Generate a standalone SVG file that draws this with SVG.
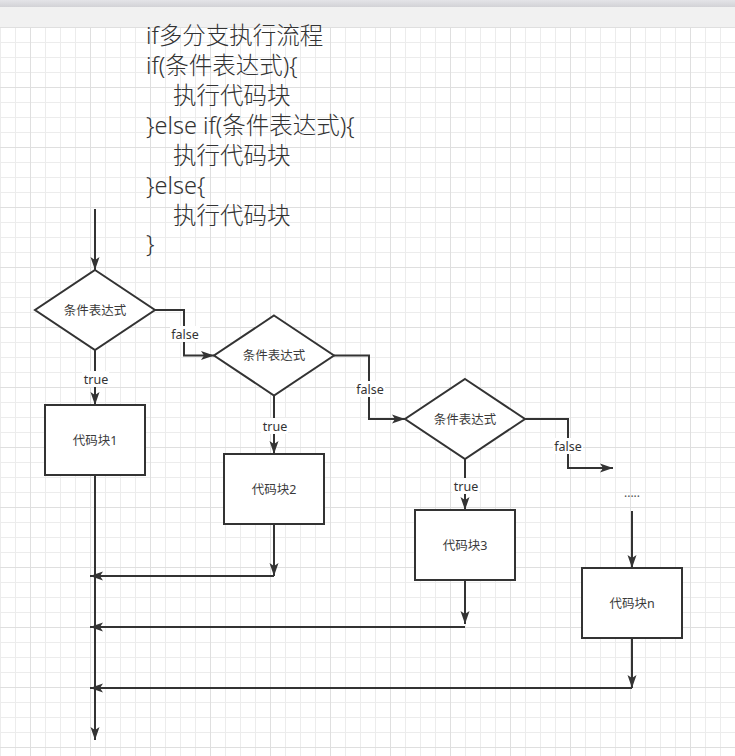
<svg xmlns="http://www.w3.org/2000/svg" width="735" height="756" viewBox="0 0 735 756">
  <defs>
    <pattern id="grid" patternUnits="userSpaceOnUse" x="30" y="27" width="60" height="60">
      <path d="M15.5,0V60M30.5,0V60M45.5,0V60M0,15.5H60M0,30.5H60M0,45.5H60" stroke="#ececec" stroke-width="1" fill="none"/>
      <path d="M0.5,0V60M0,0.5H60" stroke="#dfdfdf" stroke-width="1" fill="none"/>
    </pattern>
    <linearGradient id="bar" x1="0" y1="0" x2="0" y2="1">
      <stop offset="0" stop-color="#e4e4e8"/>
      <stop offset="1" stop-color="#d2d2d6"/>
    </linearGradient>
    <marker id="arr" viewBox="0 0 13 10" refX="13" refY="5" markerWidth="13" markerHeight="10" markerUnits="userSpaceOnUse" orient="auto">
      <path d="M0,0.5 L13,5 L0,9.5 L3,5 Z" fill="#333"/>
    </marker>
  </defs>
  <style>
    .shape { fill: #ffffff; stroke: #333333; stroke-width: 2; }
    .edge { fill: none; stroke: #333333; stroke-width: 2; marker-end: url(#arr); }
    .lbl { font-family: "Noto Sans", "Noto Sans CJK SC", sans-serif; font-size: 12.5px; fill: #3a3a3a; text-anchor: middle; dominant-baseline: central; }
    .elbl { font-family: "Noto Sans", "Noto Sans CJK SC", sans-serif; font-size: 12.5px; fill: #333333; text-anchor: middle; dominant-baseline: central; }
    .lblbg { fill: #ffffff; }
    .code { font-family: "Noto Sans", "Noto Sans CJK SC", sans-serif; font-size: 23.5px; font-weight: 300; fill: #333333; }
  </style>

  <rect x="0" y="0" width="735" height="756" fill="#ffffff"/>
  <rect x="0" y="27" width="735" height="729" fill="url(#grid)"/>
  <rect x="0" y="7" width="735" height="20" fill="#f1f1f1"/>
  <rect x="0" y="0" width="735" height="7" fill="url(#bar)"/>

  <g id="code-text" class="code">
    <text x="146" y="44">if多分支执行流程</text>
    <text x="146" y="74">if(条件表达式){</text>
    <text x="173" y="104">执行代码块</text>
    <text x="146" y="134">}else if(条件表达式){</text>
    <text x="173" y="164">执行代码块</text>
    <text x="146" y="194">}else{</text>
    <text x="173" y="224">执行代码块</text>
    <text x="146" y="252">}</text>
  </g>

  <g id="connectors">
    <path class="edge" d="M95,209 V270"/>
    <path class="edge" d="M95,350 V405"/>
    <path class="edge" d="M155,310 H184 V355.5 H214"/>
    <path class="edge" d="M274,395.5 V454"/>
    <path class="edge" d="M334,355.5 H369 V419 H405"/>
    <path class="edge" d="M465,459 V510"/>
    <path class="edge" d="M525,419 H568 V468 H613"/>
    <path class="edge" d="M632,511 V568"/>
    <path class="edge" d="M95,475 V740"/>
    <path class="edge" d="M274,524 V576"/>
    <path class="edge" d="M274,576 H90"/>
    <path class="edge" d="M465,580 V624"/>
    <path class="edge" d="M465,627 H90"/>
    <path class="edge" d="M632,638 V688"/>
    <path class="edge" d="M632,688 H90"/>

    <rect class="lblbg" x="82" y="371" width="27" height="16"/>
    <text class="elbl" x="96" y="379">true</text>
    <rect class="lblbg" x="170" y="326" width="30" height="16"/>
    <text class="elbl" x="185" y="334">false</text>
    <rect class="lblbg" x="261" y="418" width="27" height="16"/>
    <text class="elbl" x="275" y="426">true</text>
    <rect class="lblbg" x="355" y="381" width="30" height="16"/>
    <text class="elbl" x="370" y="389">false</text>
    <rect class="lblbg" x="452" y="478" width="27" height="16"/>
    <text class="elbl" x="466" y="486">true</text>
    <rect class="lblbg" x="553" y="438" width="30" height="16"/>
    <text class="elbl" x="568" y="446">false</text>
  </g>

  <g id="cond1">
    <path class="shape" d="M95,270 L155,310 L95,350 L35,310 Z"/>
    <text class="lbl" x="95" y="310">条件表达式</text>
  </g>
  <g id="cond2">
    <path class="shape" d="M274,315.5 L334,355.5 L274,395.5 L214,355.5 Z"/>
    <text class="lbl" x="274" y="355.5">条件表达式</text>
  </g>
  <g id="cond3">
    <path class="shape" d="M465,379 L525,419 L465,459 L405,419 Z"/>
    <text class="lbl" x="465" y="419">条件表达式</text>
  </g>
  <g id="block1">
    <rect class="shape" x="45" y="405" width="100" height="70"/>
    <text class="lbl" x="95" y="440">代码块1</text>
  </g>
  <g id="block2">
    <rect class="shape" x="224" y="454" width="100" height="70"/>
    <text class="lbl" x="274" y="489">代码块2</text>
  </g>
  <g id="block3">
    <rect class="shape" x="415" y="510" width="100" height="70"/>
    <text class="lbl" x="465" y="545">代码块3</text>
  </g>
  <g id="ellipsis">
    <text class="lbl" x="632" y="492" style="font-size:12px;fill:#555555">.....</text>
  </g>
  <g id="blockn">
    <rect class="shape" x="582" y="568" width="100" height="70"/>
    <text class="lbl" x="632" y="603">代码块n</text>
  </g>
</svg>
